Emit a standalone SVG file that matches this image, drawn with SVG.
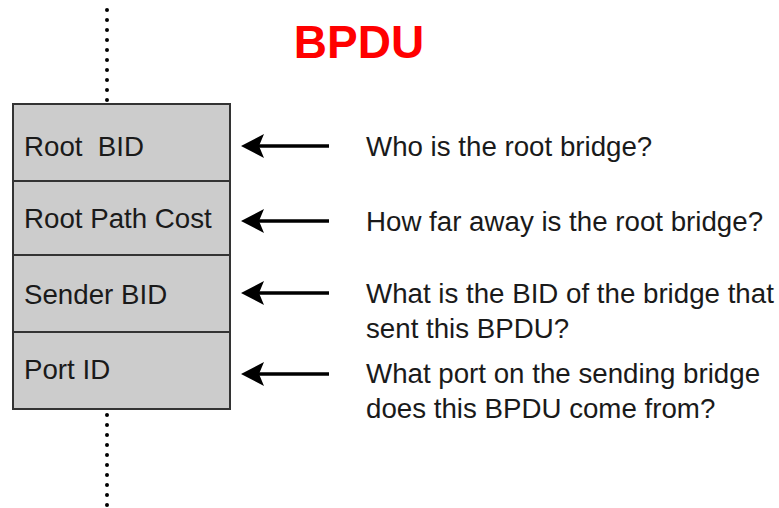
<svg xmlns="http://www.w3.org/2000/svg" width="779" height="508" viewBox="0 0 779 508">
<style>
.lbl{font-family:"Liberation Sans",Arial,sans-serif;font-size:27.7px;fill:#1a1a1a}
.cell{fill:#cccccc;stroke:#333333;stroke-width:2}
.arr{stroke:#000;stroke-width:3.5;fill:none}
.dot{stroke:#000;stroke-width:4;stroke-linecap:round;stroke-dasharray:0 10;fill:none}
</style>
<defs>
<marker id="ah" markerUnits="userSpaceOnUse" markerWidth="24" markerHeight="24" viewBox="0 0 24 24" refX="14" refY="12" orient="auto">
<path d="M23,12 L0,0 L5,12 L0,24 Z" fill="#000"/>
</marker>
</defs>
<rect width="779" height="508" fill="#fff"/>
<text x="359" y="58" text-anchor="middle" font-family="Liberation Sans,Arial,sans-serif" font-weight="bold" font-size="46" fill="#ff0000">BPDU</text>
<g id="connectors">
<path class="dot" d="M107,10 V104"/>
<path class="dot" d="M107,415 V506"/>
<path class="arr" d="M329,146 H250" marker-end="url(#ah)"/>
<path class="arr" d="M329,221 H250" marker-end="url(#ah)"/>
<path class="arr" d="M329,293 H250" marker-end="url(#ah)"/>
<path class="arr" d="M329,374 H250" marker-end="url(#ah)"/>
</g>
<g id="root-bid"><rect class="cell" x="13" y="104" width="217" height="77"/><text class="lbl" x="24" y="156" xml:space="preserve">Root  BID</text></g>
<g id="root-path-cost"><rect class="cell" x="13" y="181" width="217" height="74"/><text class="lbl" x="24" y="228">Root Path Cost</text></g>
<g id="sender-bid"><rect class="cell" x="13" y="255" width="217" height="77"/><text class="lbl" x="24" y="304">Sender BID</text></g>
<g id="port-id"><rect class="cell" x="13" y="332" width="217" height="77"/><text class="lbl" x="24" y="379">Port ID</text></g>
<g id="q1"><text class="lbl" x="366" y="156">Who is the root bridge?</text></g>
<g id="q2"><text class="lbl" x="366" y="231">How far away is the root bridge?</text></g>
<g id="q3"><text class="lbl" x="366" y="303">What is the BID of the bridge that</text><text class="lbl" x="366" y="338">sent this BPDU?</text></g>
<g id="q4"><text class="lbl" x="366" y="383">What port on the sending bridge</text><text class="lbl" x="366" y="418">does this BPDU come from?</text></g>
</svg>
